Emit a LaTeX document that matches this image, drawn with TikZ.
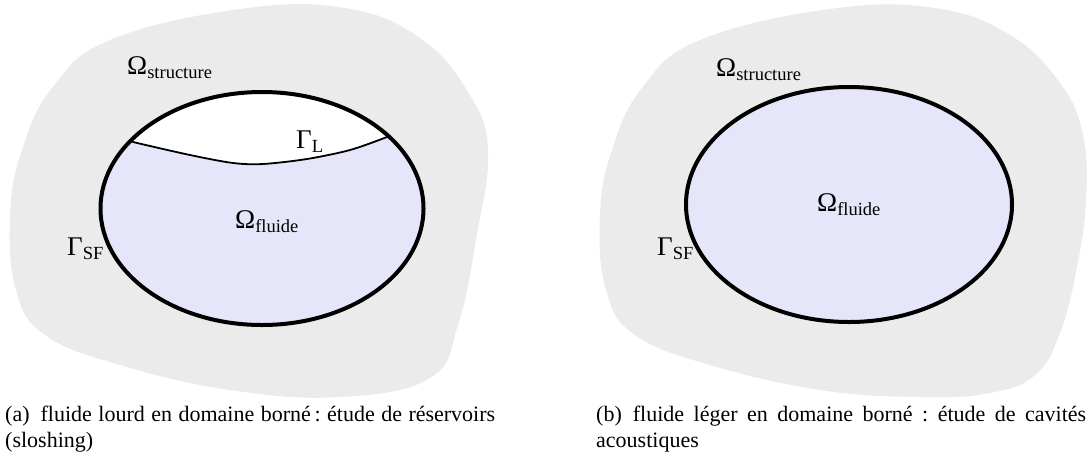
\documentclass[tikz,border=0pt]{standalone}
\usepackage{fontspec}
\setmainfont{Liberation Serif}
\definecolor{structgray}{RGB}{235,235,235}
\definecolor{fluidlav}{RGB}{230,230,250}
\newcommand{\lblsub}[2]{#1\raisebox{-4.5pt}{\fontsize{18.5}{18.5}\selectfont #2}}
\frenchspacing
\begin{document}
\begin{tikzpicture}[x=1pt,y=-1pt,
  blob/.style={fill=structgray,draw=none},
  fluid/.style={fill=fluidlav,draw=none},
  wall/.style={draw=black,line width=4pt},
  surface/.style={draw=black,line width=1.8pt},
  lbl/.style={anchor=base west,inner sep=0pt,font=\fontsize{27}{27}\selectfont},
  captext/.style={anchor=base west,inner sep=0pt,font=\fontsize{22}{26}\selectfont\frenchspacing}]
\useasboundingbox (0,0) rectangle (1090,459);

% ---------- (a) ----------
\fill[blob] plot[smooth cycle, tension=0.7] coordinates {
  (240,9) (345,8) (420,38) (468,92) (488,150) (476,240) (458,325) (430,378)
  (340,397) (230,390) (120,365) (45,335) (16,290) (10,215) (22,150) (52,88) (110,40)};
\fill[fluid] (262,208.5) ellipse [x radius=161.5, y radius=116.5];
\begin{scope}
  \clip (262,208.5) ellipse [x radius=161.5, y radius=116.5];
  \fill[white] plot[smooth] coordinates {(115,137) (133,142) (190,155) (233,163) (263,164) (307,159) (350,150) (387,137) (405,129)}
    -- (405,80) -- (115,80) -- cycle;
  \draw[surface] plot[smooth] coordinates {(115,137) (133,142) (190,155) (233,163) (263,164) (307,159) (350,150) (387,137) (405,129)};
\end{scope}
\draw[wall] (262,208.5) ellipse [x radius=161.5, y radius=116.5];

\node[lbl] (sa) at (127,74) {\lblsub{Ω}{structure}};
\node[lbl] (gl) at (296,148) {\lblsub{Γ}{L}};
\node[lbl] (fa) at (235,228) {\lblsub{Ω}{fluide}};
\node[lbl] (gsfa) at (67,255) {\lblsub{Γ}{SF}};

\node[captext] (ca1) at (5,421) {\makebox[490pt][s]{(a)\hspace{0.5em}fluide lourd en domaine borné\,: étude de réservoirs}};
\node[captext] (ca2) at (5,447) {(sloshing)};

% ---------- (b) ----------
\fill[blob] plot[smooth cycle, tension=0.7] coordinates {
  (830,9) (935,8) (1010,35) (1060,83) (1083,135) (1086,200) (1077,267) (1060,333)
  (1035,375) (990,393) (920,397) (820,390) (710,365) (635,335) (606,290) (600,215)
  (612,150) (642,88) (700,40)};
\fill[fluid] (849,204.5) ellipse [x radius=163, y radius=117.5];
\draw[wall] (849,204.5) ellipse [x radius=163, y radius=117.5];

\node[lbl] (sb) at (716,76) {\lblsub{Ω}{structure}};
\node[lbl] (fb) at (817,211) {\lblsub{Ω}{fluide}};
\node[lbl] (gsfb) at (657,255) {\lblsub{Γ}{SF}};

\node[captext] (cb1) at (596,421) {\makebox[490pt][s]{(b)\hspace{0.5em}fluide léger en domaine borné : étude de cavités}};
\node[captext] (cb2) at (596,447) {acoustiques};
\end{tikzpicture}
\end{document}
